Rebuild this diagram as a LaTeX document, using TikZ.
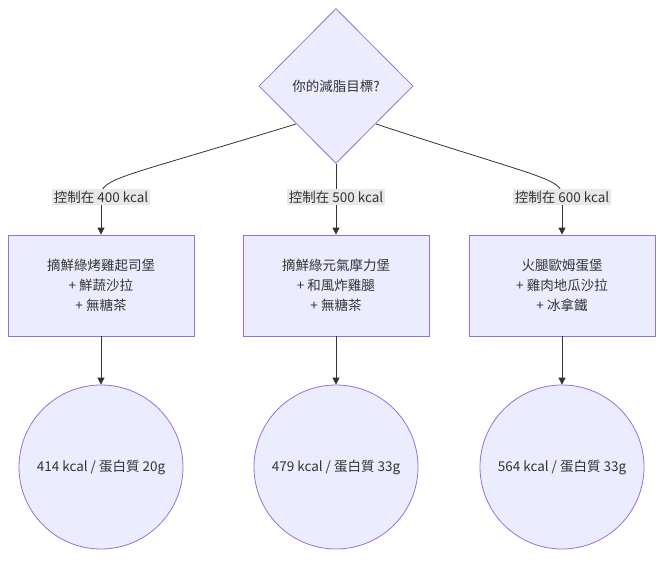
\documentclass[tikz,border=0pt]{standalone}
\usepackage{fontspec}
\setmainfont{Noto Sans CJK TC}
\usetikzlibrary{arrows.meta,shapes.geometric}
\definecolor{nfill}{HTML}{ECECFF}
\definecolor{nline}{HTML}{9370DB}
\definecolor{eline}{HTML}{333333}
\begin{document}
\begin{tikzpicture}[x=1pt,y=-1pt,
  every node/.style={font=\fontsize{13.5}{20}\selectfont, text=eline},
  box/.style={draw=nline,fill=nfill,line width=0.8pt,minimum width=186pt,minimum height=101pt,align=center,inner sep=0},
  circ/.style={draw=nline,fill=nfill,line width=0.8pt,circle,minimum size=164pt,inner sep=0},
  lab/.style={fill=black!9,inner sep=1.5pt},
  ed/.style={draw=eline,line width=0.8pt},
  arr/.style={ed,-{Triangle[length=7pt,width=7pt]}}]
\useasboundingbox (0,0) rectangle (662,568);
\node[diamond,draw=nline,fill=nfill,line width=0.8pt,minimum width=154pt,minimum height=155pt,inner sep=0] (d) at (336,86) {};
\node at (336,86) {你的減脂目標?};
\node[box] (b1) at (101,285.5) {摘鮮綠烤雞起司堡\\+ 鮮蔬沙拉\\+ 無糖茶};
\node[box] (b2) at (336,285.5) {摘鮮綠元氣摩力堡\\+ 和風炸雞腿\\+ 無糖茶};
\node[box] (b3) at (562,285.5) {火腿歐姆蛋堡\\+ 雞肉地瓜沙拉\\+ 冰拿鐵};
\node[circ] (c1) at (101,467) {414 kcal / 蛋白質 20g};
\node[circ] (c2) at (336,467) {479 kcal / 蛋白質 33g};
\node[circ] (c3) at (562,467) {564 kcal / 蛋白質 33g};
\coordinate (s1) at (296,124);
\coordinate (s3) at (376,124);
\draw[ed] (s1) .. controls (120,178) and (101,178) .. (101,196);
\draw[ed] (d.south) -- (336,196);
\draw[ed] (s3) .. controls (540,178) and (562,178) .. (562,196);
\node[lab] (l1) at (101,197) {控制在 400 kcal};
\node[lab] (l2) at (336,197) {控制在 500 kcal};
\node[lab] (l3) at (562,197) {控制在 600 kcal};
\draw[arr] (l1.south) -- (b1.north);
\draw[arr] (l2.south) -- (b2.north);
\draw[arr] (l3.south) -- (b3.north);
\draw[arr] (b1) -- (c1);
\draw[arr] (b2) -- (c2);
\draw[arr] (b3) -- (c3);
\end{tikzpicture}
\end{document}
